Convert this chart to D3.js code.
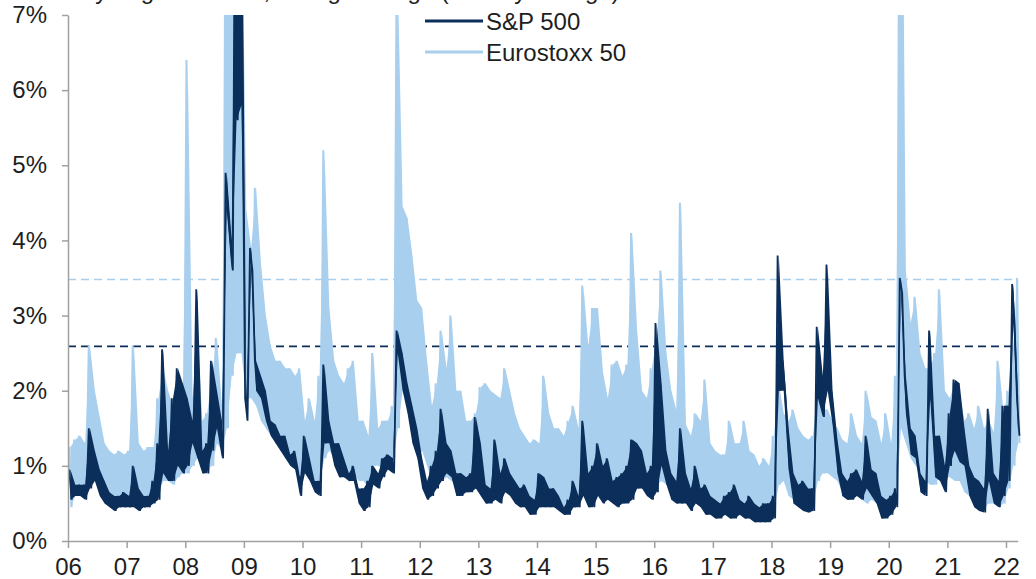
<!DOCTYPE html>
<html><head><meta charset="utf-8">
<script src="https://cdn.jsdelivr.net/npm/d3@7"></script>
<style>
html,body{margin:0;padding:0;background:#fff;}
svg{display:block;font-family:"Liberation Sans",Arial,Helvetica,sans-serif;}
</style></head><body>
<svg id="chart" width="1036" height="579"></svg>
<script>
// ---------- data (monthly high / low of the plotted band, in %) Jan-2006 .. Mar-2022 ----------
const yearLabels = ["06","07","08","09","10","11","12","13","14","15","16","17","18","19","20","21","22"];
const yTickValues = [0,1,2,3,4,5,6,7];
const seriesNames = ["S&P 500","Eurostoxx 50"];
const thresholdSP = 2.59;      // dark dashed line
const thresholdStoxx = 3.48;   // light dashed line

const stoxxHigh = [
 1.25,1.35,1.4,1.3,2.6,2.0,1.65,1.3,1.2,1.15,1.2,1.15,
 1.2,2.6,1.3,1.2,1.25,1.25,1.9,2.3,2.0,1.8,2.2,1.9,
 6.4,1.9,2.8,1.6,1.7,2.2,2.7,1.8,9.0,10.0,10.0,9.0,
 4.4,3.9,4.7,3.7,3.0,2.6,2.4,2.4,2.3,2.3,2.2,2.3,
 1.6,1.9,1.6,2.2,5.2,3.1,2.4,2.2,2.1,2.3,2.4,1.6,
 1.6,1.4,2.5,1.5,1.6,1.6,1.8,7.5,4.45,4.3,3.8,3.2,
 3.1,2.4,1.8,2.1,2.8,2.3,3.0,2.0,2.0,1.6,1.6,1.7,
 2.05,2.1,2.0,1.95,1.9,2.3,2.0,1.7,1.5,1.4,1.3,1.35,
 1.3,2.2,1.7,1.5,1.5,1.4,1.6,1.8,1.5,3.4,2.6,3.1,
 3.1,2.25,1.9,2.35,2.4,2.2,2.35,4.1,2.8,2.0,1.9,2.3,
 2.7,3.6,2.5,2.0,1.75,4.5,1.55,1.4,1.7,1.6,2.15,1.3,
 1.2,1.15,1.15,1.6,1.3,1.3,1.6,1.2,1.15,1.0,1.1,1.0,
 1.4,2.1,1.7,1.6,1.75,1.5,1.4,1.35,1.4,2.1,1.75,1.75,
 1.6,1.5,1.35,1.3,1.7,1.4,1.3,2.0,1.65,1.6,1.3,1.7,
 1.3,2.2,12.0,3.6,2.9,3.25,2.5,2.3,2.3,2.5,3.35,2.0,
 1.9,2.1,2.0,1.6,1.7,1.5,1.8,1.5,1.6,1.45,2.4,1.7,
 2.0,2.6,3.5];
const stoxxLow = [
 0.45,0.6,0.65,0.7,0.8,0.9,0.85,0.7,0.6,0.5,0.5,0.55,
 0.55,0.6,0.6,0.6,0.55,0.6,0.65,0.8,0.8,0.75,0.85,0.9,
 0.9,1.0,1.1,1.0,0.95,1.0,1.3,1.2,1.5,2.2,2.5,2.5,
 1.9,1.9,1.8,1.6,1.5,1.4,1.3,1.2,1.1,1.0,0.95,0.9,
 0.9,1.0,0.8,0.8,1.1,1.2,1.1,0.9,0.9,0.9,0.9,0.8,
 0.8,0.7,1.0,1.0,0.95,1.0,1.0,1.5,2.0,1.8,1.4,1.1,
 1.2,1.0,0.8,0.8,0.8,0.85,0.8,0.75,0.7,0.7,0.7,0.7,
 0.65,0.6,0.6,0.65,0.6,0.8,0.7,0.6,0.55,0.5,0.45,0.45,
 0.45,0.5,0.6,0.55,0.5,0.45,0.45,0.6,0.55,0.7,0.65,0.6,
 0.65,0.6,0.6,0.6,0.65,0.7,0.75,0.7,0.8,0.7,0.65,0.65,
 0.75,0.8,0.75,0.65,0.6,0.6,0.55,0.45,0.5,0.5,0.5,0.45,
 0.45,0.45,0.4,0.4,0.4,0.45,0.4,0.35,0.35,0.3,0.3,0.3,
 0.4,0.75,0.8,0.6,0.55,0.55,0.5,0.5,0.5,0.8,0.9,0.9,
 0.85,0.8,0.65,0.6,0.6,0.6,0.55,0.5,0.55,0.5,0.45,0.45,
 0.45,0.5,1.5,1.3,1.1,1.0,0.9,0.8,0.75,0.75,0.9,0.85,
 0.85,0.8,0.8,0.65,0.6,0.55,0.5,0.45,0.5,0.5,0.45,0.5,
 0.7,1.0,1.3];
const spHigh = [
 0.95,0.75,0.75,0.75,1.5,1.2,0.95,0.8,0.65,0.6,0.6,0.65,
 0.6,1.0,0.7,0.6,0.6,0.8,1.3,2.55,1.2,1.9,2.3,2.1,
 1.9,1.6,3.35,1.2,1.3,2.4,2.0,1.6,4.9,4.0,10.0,10.0,
 1.9,3.9,2.4,2.2,2.0,1.6,1.55,1.4,1.4,1.15,1.2,0.85,
 1.4,1.1,0.8,0.8,2.35,1.6,1.3,1.3,1.1,0.9,1.0,0.7,
 0.7,0.8,1.0,0.9,1.1,1.15,1.1,2.8,2.5,2.1,1.8,1.5,
 1.1,0.8,1.0,1.2,1.76,1.3,1.2,0.9,0.9,0.85,0.9,1.65,
 1.3,0.75,0.7,1.35,0.9,1.1,0.9,0.8,0.7,0.75,0.6,0.55,
 0.9,0.85,0.7,0.7,0.6,0.45,0.55,0.8,0.6,1.6,0.9,1.0,
 1.3,1.0,1.1,0.8,0.85,0.9,1.0,1.35,1.3,1.2,0.9,1.0,
 2.9,2.1,1.2,0.9,0.8,1.5,0.9,0.7,1.0,0.7,0.75,0.6,
 0.55,0.5,0.6,0.65,0.75,0.55,0.5,0.6,0.5,0.45,0.5,0.5,
 0.6,3.8,2.4,1.5,0.9,0.75,0.8,0.7,0.7,2.85,2.2,3.68,
 2.0,1.35,0.9,0.8,0.9,0.95,0.8,1.4,0.95,0.9,0.6,0.55,
 0.6,0.7,3.5,2.2,1.5,1.4,0.9,0.8,2.8,1.4,1.4,1.0,
 1.7,2.15,2.1,1.5,1.0,0.85,0.8,0.7,1.76,0.9,0.8,1.8,
 1.8,3.42,1.9];
const spLow = [
 0.55,0.6,0.6,0.55,0.7,0.8,0.6,0.5,0.45,0.4,0.45,0.45,
 0.45,0.45,0.4,0.45,0.45,0.5,0.55,0.9,0.8,0.8,1.0,0.9,
 1.0,1.3,1.1,0.9,0.9,1.2,1.5,1.1,4.4,3.6,5.6,5.8,
 1.6,3.6,2.0,1.9,1.6,1.4,1.3,1.2,1.1,1.0,0.95,0.6,
 0.9,0.8,0.65,0.6,1.3,1.3,1.0,0.85,0.85,0.8,0.8,0.5,
 0.4,0.45,0.75,0.7,0.85,0.95,0.9,2.5,2.0,1.7,1.3,1.1,
 0.7,0.55,0.6,0.7,0.8,0.9,0.85,0.6,0.6,0.65,0.65,0.7,
 0.6,0.5,0.5,0.55,0.5,0.65,0.6,0.5,0.45,0.45,0.35,0.35,
 0.45,0.45,0.45,0.45,0.4,0.35,0.35,0.45,0.45,0.6,0.45,0.45,
 0.6,0.5,0.55,0.5,0.45,0.5,0.5,0.55,0.7,0.7,0.6,0.55,
 0.65,1.0,0.75,0.55,0.5,0.5,0.5,0.4,0.5,0.45,0.35,0.35,
 0.3,0.3,0.35,0.3,0.3,0.35,0.3,0.3,0.25,0.25,0.25,0.25,
 0.3,2.0,2.0,0.95,0.5,0.45,0.4,0.38,0.4,1.9,1.65,2.0,
 1.55,0.9,0.6,0.55,0.55,0.6,0.55,0.7,0.6,0.5,0.3,0.3,
 0.35,0.45,3.3,1.7,1.15,1.1,0.65,0.6,1.9,0.85,0.8,0.65,
 1.0,1.2,1.05,1.0,0.6,0.45,0.4,0.38,0.8,0.5,0.45,0.6,
 0.8,2.9,1.4];

// ---------- drawing ----------
const DARK = "#0b2f5a", LIGHT = "#a9cfee", AXIS = "#a0a0a0", TEXT = "#1e1e1e";
const svg = d3.select("#chart");
const x = d3.scaleLinear().domain([2006, 2022.2]).range([68, 68 + 16.2 * 58.625]);
const y = d3.scaleLinear().domain([0, 7]).range([541, 15]);

svg.append("defs").append("clipPath").attr("id", "plotclip")
  .append("rect").attr("x", 60).attr("y", y(7)).attr("width", 980).attr("height", y(0) - y(7));

// partially visible title at the top edge
svg.append("text").attr("x", 54).attr("y", -1).attr("font-size", 24).attr("fill", TEXT)
  .text("Daily largest moves, rolling average (% daily change)");

// threshold dashed lines
[[thresholdStoxx, LIGHT], [thresholdSP, DARK]].forEach(([v, c]) => {
  svg.append("line").attr("x1", x(2006)).attr("x2", x(2022.15))
    .attr("y1", y(v)).attr("y2", y(v)).attr("stroke", c).attr("stroke-width", 1.6)
    .attr("stroke-dasharray", "8,5");
});

const monthT = i => 2006 + (i + 0.5) / 12;
function bandRows(hi, lo) { return hi.map((h, i) => ({ t: monthT(i), hi: h, lo: lo[i] })); }
function zigzag(hi, lo) {
  const pts = [];
  hi.forEach((h, i) => {
    pts.push([2006 + (i + 0.25) / 12, h]);
    pts.push([2006 + (i + 0.75) / 12, lo[i]]);
  });
  return pts;
}
const area = d3.area().x(d => x(d.t)).y0(d => y(d.lo)).y1(d => y(d.hi));
const line = d3.line().x(d => x(d[0])).y(d => y(d[1]));
const plot = svg.append("g").attr("clip-path", "url(#plotclip)");

function drawSeries(hi, lo, color, sw) {
  plot.append("path").datum(bandRows(hi, lo)).attr("d", area).attr("fill", color);
  plot.append("path").datum(zigzag(hi, lo)).attr("d", line)
    .attr("fill", "none").attr("stroke", color).attr("stroke-width", sw).attr("stroke-linejoin", "bevel");
}
drawSeries(stoxxHigh, stoxxLow, LIGHT, 2.0);
drawSeries(spHigh, spLow, DARK, 1.8);

// axes
const xAxis = d3.axisBottom(x).tickValues(d3.range(2006, 2023))
  .tickFormat((d, i) => yearLabels[i]).tickSizeInner(7).tickSizeOuter(0).tickPadding(10);
const gx = svg.append("g").attr("transform", `translate(0,${y(0)})`).call(xAxis);
const yAxis = d3.axisLeft(y).tickValues(yTickValues).tickFormat(d => d + "%")
  .tickSizeInner(6).tickSizeOuter(0).tickPadding(15);
const gy = svg.append("g").attr("transform", `translate(${x(2006)},0)`).call(yAxis);
[gx, gy].forEach(g => {
  g.selectAll("path,line").attr("stroke", AXIS).attr("stroke-width", 1.5);
  g.selectAll("text").attr("fill", TEXT).attr("font-size", 24)
    .attr("font-family", '"Liberation Sans",Arial,sans-serif');
});

// legend
const legend = svg.append("g");
[[seriesNames[0], DARK, 21], [seriesNames[1], LIGHT, 52]].forEach(([name, c, ly]) => {
  legend.append("line").attr("x1", 425).attr("x2", 483).attr("y1", ly).attr("y2", ly)
    .attr("stroke", c).attr("stroke-width", 3.2);
  legend.append("text").attr("x", 486).attr("y", ly + 8.5).attr("font-size", 24)
    .attr("fill", TEXT).text(name);
});
</script>
</body></html>
